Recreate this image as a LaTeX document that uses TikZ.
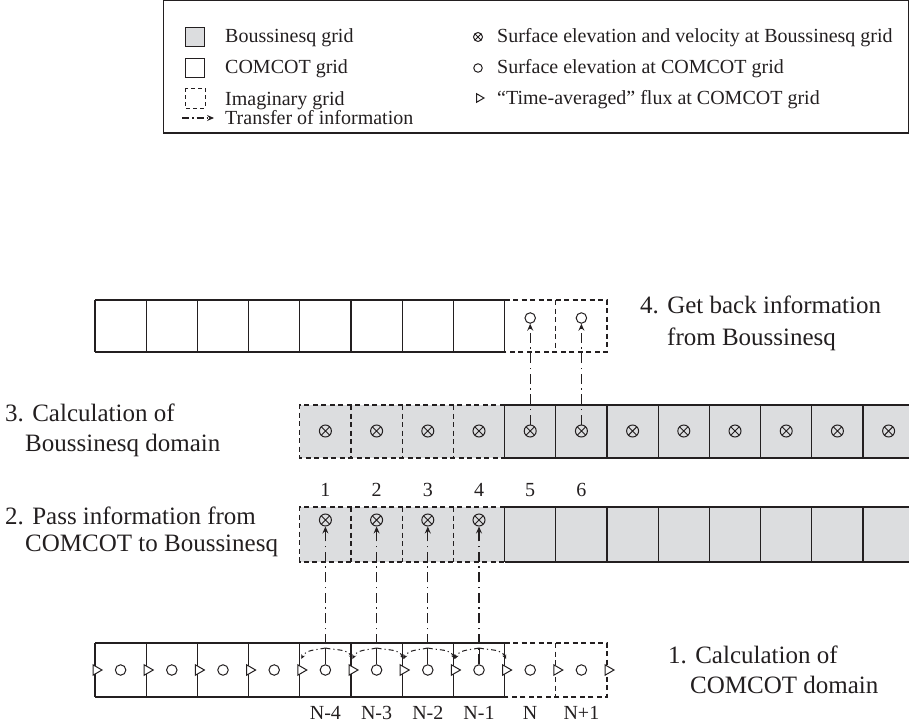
\documentclass[tikz,border=0pt]{standalone}
\usepackage{fontspec}
\setmainfont{Liberation Serif}
\usetikzlibrary{arrows.meta,shapes.geometric}
\definecolor{bgray}{RGB}{220,221,223}
\definecolor{ink}{RGB}{35,31,32}
\tikzset{
  gridline/.style={line width=1.2pt, draw=ink},
  dashgrid/.style={line width=1.2pt, draw=ink, dash pattern=on 5pt off 3.5pt},
  xfer/.style={line width=1.1pt, draw=ink, dash pattern=on 10pt off 4.5pt on 1.5pt off 4.5pt,
    -{Stealth[length=7pt,width=6pt,inset=2.5pt]}},
  xfersmall/.style={line width=1pt, draw=ink, dash pattern=on 5pt off 3pt on 1.2pt off 3pt,
    -{Stealth[length=4.5pt,width=4pt,inset=1.5pt]}},
  otimes/.style={circle, draw=ink, line width=1pt, minimum size=12pt, inner sep=0pt,
    path picture={\draw[line width=0.9pt, ink]
      (path picture bounding box.north west) -- (path picture bounding box.south east)
      (path picture bounding box.north east) -- (path picture bounding box.south west);}},
  ocirc/.style={circle, draw=ink, fill=white, line width=1pt, minimum size=10.5pt, inner sep=0pt},
  trinode/.style={regular polygon, regular polygon sides=3, shape border rotate=-90,
    draw=ink, fill=white, line width=1pt, minimum size=12pt, inner sep=0pt},
  sq/.style={draw=ink, line width=1pt, minimum size=19pt, inner sep=0pt},
  lbl/.style={text=ink, inner sep=0pt, anchor=base west},
  steplbl/.style={text=ink, inner sep=0pt, anchor=base west, font=\fontsize{25}{29}\selectfont},
  num/.style={text=ink, inner sep=0pt, anchor=base},
}
\begin{document}
\begin{tikzpicture}[x=1pt,y=-1pt,font=\fontsize{20}{24}\selectfont]
\useasboundingbox (0,0) rectangle (909,725);

% ---------------- legend ----------------
\draw[gridline] (163.5,0.8) rectangle (908.2,133);
\node[sq, fill=bgray] (lg1) at (195,37) {};
\node[sq] (lg2) at (195,68) {};
\node[sq, draw=none] (lg3) at (195,98) {};
\draw[line width=1pt, ink, dash pattern=on 4pt off 3pt] (lg3.north west) rectangle (lg3.south east);
\coordinate (la) at (182,118);
\coordinate (lb) at (214,118);
\draw[xfer, dash pattern=on 7pt off 3pt on 1.5pt off 3pt] (la) -- (lb);
\node[lbl] (lt1) at (225,43) {Boussinesq grid};
\node[lbl] (lt2) at (225,74) {COMCOT grid};
\node[lbl] (lt3) at (225,105) {Imaginary grid};
\node[lbl] (lt4) at (225,124) {Transfer of information};

\node[otimes, minimum size=9pt] (ls1) at (478,37) {};
\node[ocirc, minimum size=8.5pt] (ls2) at (478,68) {};
\node[trinode, minimum size=10pt] (ls3) at (479,98) {};
\node[lbl] (lu1) at (497,43) {Surface elevation and velocity at Boussinesq grid};
\node[lbl] (lu2) at (497,74) {Surface elevation at COMCOT grid};
\node[lbl] (lu3) at (497,104) {“Time-averaged” flux at COMCOT grid};

% ---------------- row 4 (top, COMCOT) ----------------
\draw[gridline] (95,300) -- (504.6,300) (95,352) -- (504.6,352);
\foreach \i in {0,...,8} {\draw[gridline] ({95+51.2*\i},300) -- ({95+51.2*\i},352);}
\draw[dashgrid] (504.6,300) -- (607,300) -- (607,352) -- (504.6,352);
\draw[dashgrid] (555.8,300) -- (555.8,352);
\foreach \i in {8,9} {\node[ocirc] (c4-\i) at ({95+51.2*(\i+0.5)},318) {};}
\node[steplbl] (t4a) at (640,313) {4. Get back information};
\node[steplbl] (t4b) at (667,345) {from Boussinesq};

% ---------------- row 3 (Boussinesq) ----------------
\fill[bgray] (299.8,405) rectangle (910,458);
\draw[dashgrid] (504.6,405) -- (299.8,405) -- (299.8,458) -- (504.6,458);
\foreach \i in {5,6,7} {\draw[dashgrid] ({95+51.2*\i},405) -- ({95+51.2*\i},458);}
\draw[gridline] (504.6,405) -- (910,405) (504.6,458) -- (910,458);
\foreach \i in {8,...,15} {\draw[gridline] ({95+51.2*\i},405) -- ({95+51.2*\i},458);}
\foreach \i in {4,...,15} {\node[otimes] (b3-\i) at ({95+51.2*(\i+0.5)},431) {};}
\node[steplbl] (t3a) at (5,421) {3. Calculation of};
\node[steplbl] (t3b) at (25,451) {Boussinesq domain};

% ---------------- row 2 (Boussinesq) ----------------
\fill[bgray] (299.8,507) rectangle (910,562);
\draw[dashgrid] (504.6,507) -- (299.8,507) -- (299.8,562) -- (504.6,562);
\foreach \i in {5,6,7} {\draw[dashgrid] ({95+51.2*\i},507) -- ({95+51.2*\i},562);}
\draw[gridline] (504.6,507) -- (910,507) (504.6,562) -- (910,562);
\foreach \i in {8,...,15} {\draw[gridline] ({95+51.2*\i},507) -- ({95+51.2*\i},562);}
\foreach \i in {4,...,7} {\node[otimes] (b2-\i) at ({95+51.2*(\i+0.5)},520) {};}
\foreach \i/\t in {4/1,5/2,6/3,7/4,8/5,9/6} {\node[num] (n\i) at ({95+51.2*(\i+0.5)},496) {\t};}
\node[steplbl] (t2a) at (5,524) {2. Pass information from};
\node[steplbl] (t2b) at (25,551) {COMCOT to Boussinesq};

% ---------------- row 1 (bottom, COMCOT) ----------------
\draw[gridline] (95,643) -- (504.6,643) (95,697) -- (504.6,697);
\foreach \i in {0,...,8} {\draw[gridline] ({95+51.2*\i},643) -- ({95+51.2*\i},697);}
\draw[dashgrid] (504.6,643) -- (607,643) -- (607,697) -- (504.6,697);
\draw[dashgrid] (555.8,643) -- (555.8,697);
\foreach \i in {0,...,9} {\node[ocirc] (c1-\i) at ({95+51.2*(\i+0.5)},670) {};}
\foreach \i in {0,...,10} {
  \node[trinode] (f\i) at ({96+51.2*\i},670) {};
  \coordinate (ft\i) at ({96.5+51.2*\i},659);
}
\foreach \i/\t in {4/N-4,5/N-3,6/N-2,7/N-1,8/N,9/N+1} {\node[num] (m\i) at ({95+51.2*(\i+0.5)},719) {\t};}
\node[steplbl] (t1a) at (668,663) {1. Calculation of};
\node[steplbl] (t1b) at (690,693) {COMCOT domain};

% ---------------- transfers ----------------
\foreach \i in {4,...,7} {
  \coordinate (s\i) at ({95+51.2*(\i+0.5)},648);
  \draw[gridline, line width=1pt] (c1-\i) -- (s\i);
}
\foreach \i in {4,...,7} {
  \pgfmathtruncatemacro\j{\i+1}
  \draw[xfersmall] (s\i) to[out=192,in=65] (ft\i);
  \draw[xfersmall] (s\i) to[out=-12,in=115] (ft\j);
}
\draw[xfer] (c1-4) -- (b2-4);
\draw[xfer] (c1-5) -- (b2-5);
\draw[xfer] (c1-6) -- (b2-6);
\draw[xfer] (c1-7) -- (b2-7);
\draw[xfer] (b3-8) -- (c4-8);
\draw[xfer] (b3-9) -- (c4-9);
\end{tikzpicture}
\end{document}
